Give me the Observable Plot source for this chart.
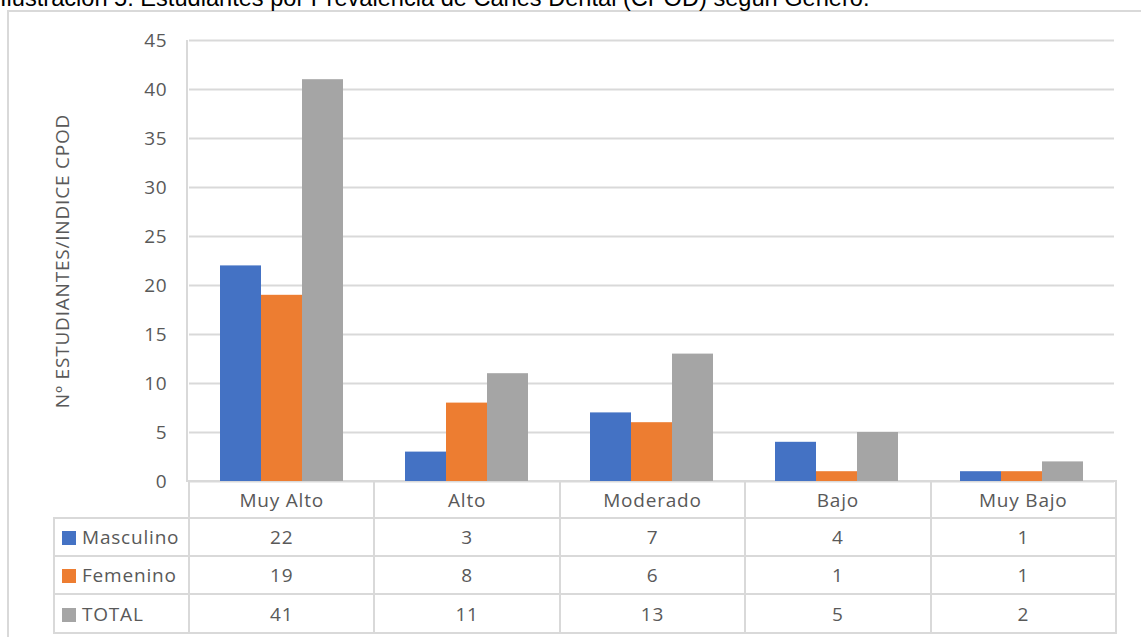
<!DOCTYPE html>
<html>
<head>
<meta charset="utf-8">
<script src="https://cdn.jsdelivr.net/npm/d3@7"></script>
<script src="https://cdn.jsdelivr.net/npm/@observablehq/plot@0.6"></script>
<style>
  html, body { margin: 0; padding: 0; background: #fff; width: 1141px; height: 637px; overflow: hidden; }
  #wrap { position: relative; width: 1141px; height: 637px; }
  #frame { position: absolute; left: 7px; top: 10px; width: 1200px; height: 700px; border: 2px solid #d9d9d9; box-sizing: border-box; }
  #title { position: absolute; left: 0; top: -14px; font-family: "Liberation Sans", Arial, sans-serif; font-size: 23.6px; line-height: 24px; color: #000; white-space: nowrap; }
  #chart { position: absolute; left: 0; top: 12px; }
  #vline { position: absolute; left: 186px; top: 40px; width: 2px; height: 442px; background: #d9d9d9; }
  table { position: absolute; left: 53px; top: 480px; border-collapse: collapse; table-layout: fixed;
          font-family: "Open Sans", sans-serif; font-size: 19px; color: #595959; letter-spacing: 0.8px; }
  td { border: 2px solid #d9d9d9; text-align: center; padding: 0; white-space: nowrap; }
  td.blank { border: none; }
  td.leg { text-align: left; padding-left: 7px; }
  .sw { display: inline-block; width: 14px; height: 14px; margin-right: 6px; vertical-align: -1px; }
</style>
</head>
<body>
<div id="wrap">
  <div id="frame"></div>
  <div id="title">Ilustración 5: Estudiantes por Prevalencia de Caries Dental (CPOD) según Género.</div>
  <table id="tbl"></table>
  <div id="chart"></div>
  <div id="vline"></div>
</div>
<script>
const categories = ["Muy Alto", "Alto", "Moderado", "Bajo", "Muy Bajo"];
const series = ["Masculino", "Femenino", "TOTAL"];
const masculino = [22, 3, 7, 4, 1];
const femenino = [19, 8, 6, 1, 1];
const total = [41, 11, 13, 5, 2];
const colors = ["#4472C4", "#ED7D31", "#A5A5A5"];
const yTicks = [0, 5, 10, 15, 20, 25, 30, 35, 40, 45];
const yLabel = "Nº ESTUDIANTES/INDICE CPOD";

const seriesValues = [masculino, femenino, total];
const rows = [];
categories.forEach((c, i) => {
  series.forEach((s, j) => rows.push({category: c, series: s, value: seriesValues[j][i]}));
});

const chart = Plot.plot({
  width: 1141,
  height: 485,
  marginLeft: 187,
  marginRight: 26,
  marginTop: 28,
  marginBottom: 16,
  style: {fontFamily: "Open Sans, sans-serif", fontSize: "19px", color: "#595959", letterSpacing: "0.8px", background: "transparent"},
  fx: {domain: categories, paddingInner: 0, paddingOuter: 0, axis: null},
  x: {domain: series, paddingInner: 0, paddingOuter: 0.75, axis: null},
  y: {domain: [0, 45], ticks: yTicks, grid: false, axis: null},
  color: {domain: series, range: colors},
  marks: [
    Plot.gridY(yTicks, {stroke: "#d9d9d9", strokeOpacity: 1, strokeWidth: 2}),
    Plot.barY(rows, {fx: "category", x: "series", y: "value", fill: "series"}),
    Plot.axisY(yTicks, {anchor: "left", tickSize: 0, tickPadding: 22, label: yLabel, labelAnchor: "center", labelOffset: 134, labelArrow: "none", fill: "#595959"})
  ]
});
document.getElementById("chart").appendChild(chart);

// data table
const tbl = document.getElementById("tbl");
const colgroup = document.createElement("colgroup");
const c0 = document.createElement("col"); c0.style.width = "135px"; colgroup.appendChild(c0);
categories.forEach(() => { const c = document.createElement("col"); c.style.width = "185.4px"; colgroup.appendChild(c); });
tbl.appendChild(colgroup);
const head = document.createElement("tr"); head.style.height = "37px";
const hb = document.createElement("td"); hb.className = "blank"; head.appendChild(hb);
categories.forEach(c => { const td = document.createElement("td"); td.textContent = c; head.appendChild(td); });
tbl.appendChild(head);
const rowHeights = [38, 38, 39];
series.forEach((s, j) => {
  const tr = document.createElement("tr"); tr.style.height = rowHeights[j] + "px";
  const l = document.createElement("td"); l.className = "leg";
  const sw = document.createElement("span"); sw.className = "sw"; sw.style.background = colors[j];
  l.appendChild(sw); l.appendChild(document.createTextNode(s));
  tr.appendChild(l);
  seriesValues[j].forEach(v => { const td = document.createElement("td"); td.textContent = v; tr.appendChild(td); });
  tbl.appendChild(tr);
});
</script>
</body>
</html>
